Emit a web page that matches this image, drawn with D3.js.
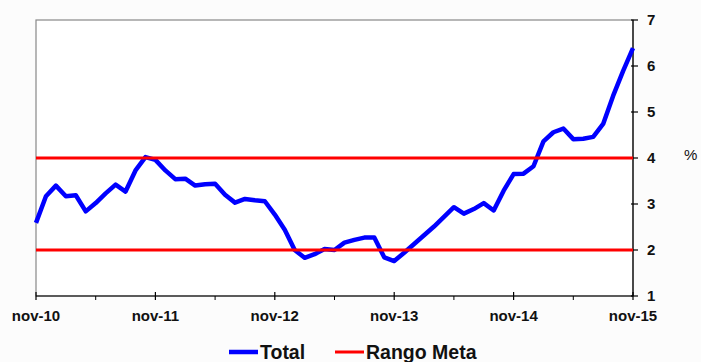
<!DOCTYPE html>
<html>
<head>
<meta charset="utf-8">
<script src="https://cdn.jsdelivr.net/npm/d3@7"></script>
<style>
  html, body { margin: 0; padding: 0; background: #fcfcfc; }
  svg { display: block; font-family: "Liberation Sans", Arial, sans-serif; }
</style>
</head>
<body>
<svg id="chart" width="701" height="362"></svg>
<script>
'use strict';
// monthly inflation, nov-10 .. nov-15 (%)
const total = [
    2.59, 3.17, 3.40, 3.17, 3.19, 2.84, 3.02, 3.23, 3.42, 3.27, 3.73, 4.02, 3.96,
    3.73, 3.54, 3.55, 3.40, 3.43, 3.44, 3.20, 3.03, 3.11, 3.08, 3.06, 2.77,
    2.44, 2.00, 1.83, 1.91, 2.02, 2.00, 2.16, 2.22, 2.27, 2.27, 1.84, 1.76,
    1.94, 2.13, 2.32, 2.51, 2.72, 2.93, 2.79, 2.89, 3.02, 2.86, 3.29, 3.65,
    3.66, 3.82, 4.36, 4.56, 4.64, 4.41, 4.42, 4.46, 4.74, 5.35, 5.89, 6.39
];
const rangoMeta = [2, 4];
const xTickLabels = ["nov-10", "nov-11", "nov-12", "nov-13", "nov-14", "nov-15"];
const yTicks = [1, 2, 3, 4, 5, 6, 7];
const legendItems = [
    {name: "Total", color: "#0000ff"},
    {name: "Rango Meta", color: "#ff0000"}
];

let svg = d3.select("#chart"),
    margin = {top: 20, right: 68, bottom: 66, left: 36},
    width = +svg.attr("width"),
    height = +svg.attr("height");

let x = d3.scaleLinear()
    .domain([0, total.length - 1])
    .range([margin.left, width - margin.right]);

let y = d3.scaleLinear()
    .domain([1, 7])
    .range([height - margin.bottom, margin.top]);

// plot area frame (top / left in grey)
svg.append("rect")
    .attr("x", x(0))
    .attr("y", y(7))
    .attr("width", x(total.length - 1) - x(0))
    .attr("height", y(1) - y(7))
    .attr("fill", "#ffffff")
    .attr("stroke", "#888")
    .attr("stroke-width", 1.2);

// x axis: year ticks crossing, half-year ticks below
let xAxis = svg.append("g").attr("class", "x-axis");
xAxis.append("line")
    .attr("x1", x(0)).attr("x2", x(total.length - 1))
    .attr("y1", y(1)).attr("y2", y(1))
    .attr("stroke", "#000").attr("stroke-width", 1.2);
xAxis.selectAll("line.minor")
    .data(d3.range(6, total.length, 12))
    .enter().append("line")
    .attr("class", "minor")
    .attr("x1", d => x(d)).attr("x2", d => x(d))
    .attr("y1", y(1)).attr("y2", y(1) + 4)
    .attr("stroke", "#000").attr("stroke-width", 1);
xAxis.selectAll("line.major")
    .data(xTickLabels)
    .enter().append("line")
    .attr("class", "major")
    .attr("x1", (d, i) => x(i * 12)).attr("x2", (d, i) => x(i * 12))
    .attr("y1", y(1) - 4).attr("y2", y(1) + 4)
    .attr("stroke", "#000").attr("stroke-width", 1.2);
xAxis.selectAll("text")
    .data(xTickLabels)
    .enter().append("text")
    .attr("x", (d, i) => x(i * 12))
    .attr("y", y(1) + 25)
    .attr("text-anchor", "middle")
    .attr("font-size", 15)
    .attr("font-weight", "bold")
    .attr("fill", "#111")
    .text(d => d);

// y axis on the right
let yAxis = svg.append("g")
    .attr("class", "y-axis")
    .attr("transform", "translate(" + x(total.length - 1) + ",0)");
yAxis.append("line")
    .attr("y1", y(7)).attr("y2", y(1))
    .attr("stroke", "#000").attr("stroke-width", 1.2);
yAxis.selectAll("line.tick")
    .data(yTicks)
    .enter().append("line")
    .attr("class", "tick")
    .attr("x1", -2).attr("x2", 5)
    .attr("y1", d => y(d)).attr("y2", d => y(d))
    .attr("stroke", "#000").attr("stroke-width", 1.2);
yAxis.selectAll("text")
    .data(yTicks)
    .enter().append("text")
    .attr("x", 14)
    .attr("y", d => y(d))
    .attr("dy", "0.36em")
    .attr("font-size", 15)
    .attr("font-weight", "bold")
    .attr("fill", "#111")
    .text(d => d);
svg.append("text")
    .attr("x", 684)
    .attr("y", y(4))
    .attr("dy", "0.1em")
    .attr("font-size", 15)
    .attr("fill", "#111")
    .text("%");

let line = d3.line()
    .x((d, i) => x(i))
    .y(d => y(d));

svg.append("path")
    .datum(total)
    .attr("fill", "none")
    .attr("stroke", legendItems[0].color)
    .attr("stroke-width", 4.5)
    .attr("stroke-linejoin", "round")
    .attr("d", line);

svg.selectAll("line.meta")
    .data(rangoMeta)
    .enter().append("line")
    .attr("class", "meta")
    .attr("x1", x(0)).attr("x2", x(total.length - 1))
    .attr("y1", d => y(d)).attr("y2", d => y(d))
    .attr("stroke", legendItems[1].color)
    .attr("stroke-width", 3);

// legend
let legendX = [229, 335];
let lg = svg.selectAll("g.legend")
    .data(legendItems)
    .enter().append("g")
    .attr("class", "legend")
    .attr("transform", (d, i) => "translate(" + legendX[i] + ",352)");
lg.append("line")
    .attr("x1", 0).attr("x2", 29)
    .attr("stroke", d => d.color)
    .attr("stroke-width", (d, i) => i == 0 ? 4.5 : 3);
lg.append("text")
    .attr("x", 31)
    .attr("y", 6.5)
    .attr("font-size", 19.5)
    .attr("font-weight", "bold")
    .attr("fill", "#111")
    .text(d => d.name);
</script>
</body>
</html>
